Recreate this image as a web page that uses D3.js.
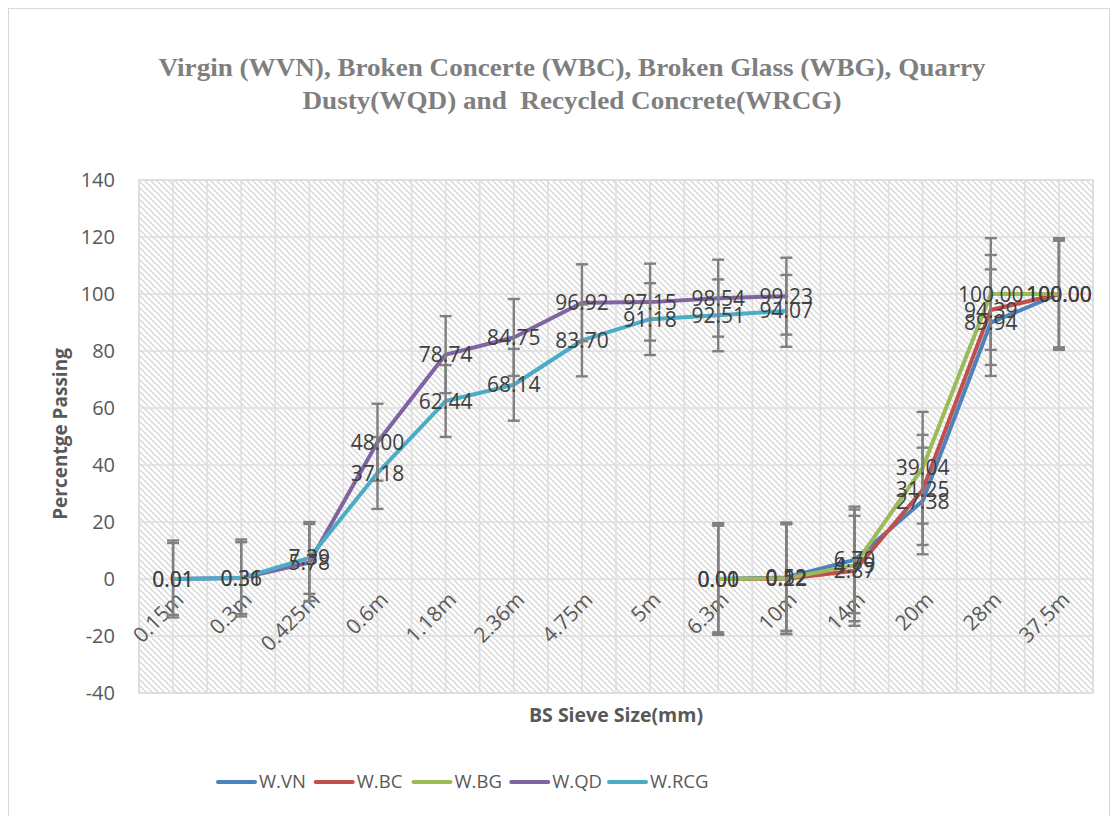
<!DOCTYPE html>
<html>
<head>
<meta charset="utf-8">
<script src="https://cdn.jsdelivr.net/npm/d3@7"></script>
<style>
  body { margin: 0; background: #fff; }
  svg { display: block; }
</style>
</head>
<body>
<svg width="1115" height="816"></svg>
<script>
const svg = d3.select("svg");
var width = +svg.attr("width");
var height = +svg.attr("height");

// sieve sizes (x categories)
const categories = ["0.15m", "0.3m", "0.425m", "0.6m", "1.18m", "2.36m", "4.75m", "5m", "6.3m", "10m", "14m", "20m", "28m", "37.5m"];

// percentage passing per mix, null where the series has no point
const wvn = [null, null, null, null, null, null, null, null, 0.00, 0.52, 6.70, 27.38, 89.94, 100.00];
const wbc = [null, null, null, null, null, null, null, null, 0.00, 0.12, 2.87, 31.25, 94.39, 100.00];
const wbg = [null, null, null, null, null, null, null, null, 0.01, 0.22, 4.79, 39.04, 100.00, 100.00];
const wqd = [0.01, 0.36, 5.78, 48.00, 78.74, 84.75, 96.92, 97.15, 98.54, 99.23, null, null, null, null];
const wrcg = [0.01, 0.31, 7.39, 37.18, 62.44, 68.14, 83.70, 91.18, 92.51, 94.07, null, null, null, null];

// +/- error bar size for each series
const errors = [18.7, 19.3, 19.6, 13.5, 12.6];

const seriesNames = ["W.VN", "W.BC", "W.BG", "W.QD", "W.RCG"];
const seriesValues = [wvn, wbc, wbg, wqd, wrcg];
const colors = ["#4F81BD", "#C0504D", "#9BBB59", "#8064A2", "#4BACC6"];

const yTicks = [-40, -20, 0, 20, 40, 60, 80, 100, 120, 140];

const plot = { left: 139, right: 1093, top: 180, bottom: 693 };

var x = d3.scaleBand().domain(categories).range([plot.left, plot.right]).padding(0);
var y = d3.scaleLinear().domain([-40, 140]).range([plot.bottom, plot.top]);
function cx(c) {
  return x(c) + x.bandwidth() / 2;
}

var series = seriesNames.map(function (name, i) {
  return {
    name: name,
    color: colors[i],
    err: errors[i],
    points: categories.map(function (c, j) {
      return { cat: c, v: seriesValues[i][j] };
    }),
  };
});

// chart area border
svg.append("rect")
  .attr("x", 8.5).attr("y", 8.5)
  .attr("width", 1101).attr("height", 820)
  .attr("fill", "#fff")
  .attr("stroke", "#d9d9d9");

// title (two lines)
const titleLines = [
  { text: "Virgin (WVN), Broken Concerte (WBC), Broken Glass (WBG), Quarry", y: 76, len: 827 },
  { text: "Dusty(WQD) and  Recycled Concrete(WRCG)", y: 109, len: 539 },
];
svg.append("g").selectAll("text")
  .data(titleLines)
  .join("text")
  .attr("x", 572)
  .attr("y", function (d) { return d.y; })
  .attr("text-anchor", "middle")
  .attr("textLength", function (d) { return d.len; })
  .attr("lengthAdjust", "spacingAndGlyphs")
  .attr("font-family", "Liberation Serif")
  .attr("font-weight", "bold")
  .attr("font-size", 25)
  .attr("fill", "#7f7f7f")
  .style("white-space", "pre")
  .text(function (d) { return d.text; });

// hatched plot background
var defs = svg.append("defs");
var pat = defs.append("pattern")
  .attr("id", "hatch")
  .attr("patternUnits", "userSpaceOnUse")
  .attr("width", 6).attr("height", 6);
pat.append("path")
  .attr("d", "M-1,-1 L7,7 M-1,5 L1,7 M5,-1 L7,1")
  .attr("stroke", "#d9d9d9")
  .attr("stroke-width", 1.5);

svg.append("rect")
  .attr("x", plot.left).attr("y", plot.top)
  .attr("width", plot.right - plot.left).attr("height", plot.bottom - plot.top)
  .attr("fill", "url(#hatch)")
  .attr("stroke", "#d9d9d9")
  .attr("stroke-width", 1.5);

// gridlines: horizontal at ticks, vertical at band centres and edges
var grid = svg.append("g").attr("stroke", "#dedede").attr("stroke-width", 1.6);
grid.selectAll("line.h")
  .data(yTicks)
  .join("line")
  .attr("class", "h")
  .attr("x1", plot.left).attr("x2", plot.right)
  .attr("y1", function (d) { return y(d); })
  .attr("y2", function (d) { return y(d); });
var vx = [];
categories.forEach(function (c) {
  vx.push(x(c));
  vx.push(cx(c));
});
vx.push(plot.right);
grid.selectAll("line.v")
  .data(vx)
  .join("line")
  .attr("class", "v")
  .attr("y1", plot.top).attr("y2", plot.bottom)
  .attr("x1", function (d) { return d; })
  .attr("x2", function (d) { return d; });

// y axis tick labels
svg.append("g").selectAll("text")
  .data(yTicks)
  .join("text")
  .attr("x", 115)
  .attr("y", function (d) { return y(d); })
  .attr("dy", "0.35em")
  .attr("text-anchor", "end")
  .attr("font-family", "Open Sans")
  .attr("font-size", 20)
  .attr("fill", "#595959")
  .text(function (d) { return d; });

// x axis tick labels, rotated
svg.append("g").selectAll("text")
  .data(categories)
  .join("text")
  .attr("transform", function (d) { return "translate(" + (cx(d) + 12) + ",601) rotate(-45)"; })
  .attr("text-anchor", "end")
  .attr("font-family", "Open Sans")
  .attr("font-size", 21)
  .attr("fill", "#595959")
  .text(function (d) { return d; });

// axis titles
svg.append("text")
  .attr("transform", "translate(67,434) rotate(-90)")
  .attr("text-anchor", "middle")
  .attr("font-family", "Open Sans")
  .attr("font-weight", "bold")
  .attr("font-size", 19)
  .attr("fill", "#595959")
  .text("Percentge Passing");

svg.append("text")
  .attr("x", 616).attr("y", 722)
  .attr("text-anchor", "middle")
  .attr("font-family", "Open Sans")
  .attr("font-weight", "bold")
  .attr("font-size", 19.5)
  .attr("fill", "#595959")
  .text("BS Sieve Size(mm)");

// series lines
var line = d3.line()
  .defined(function (d) { return d.v !== null; })
  .x(function (d) { return cx(d.cat); })
  .y(function (d) { return y(d.v); });

svg.append("g").selectAll("path")
  .data(series)
  .join("path")
  .attr("d", function (d) { return line(d.points); })
  .attr("fill", "none")
  .attr("stroke", function (d) { return d.color; })
  .attr("stroke-width", 4)
  .attr("stroke-linejoin", "round")
  .attr("stroke-linecap", "round");

// error bars
var bars = [];
series.forEach(function (s) {
  s.points.forEach(function (p) {
    if (p.v !== null) bars.push({ cat: p.cat, lo: p.v - s.err, hi: p.v + s.err });
  });
});
var eb = svg.append("g").attr("stroke", "#808080").attr("stroke-width", 2.4);
eb.selectAll("line.stem")
  .data(bars)
  .join("line")
  .attr("class", "stem")
  .attr("x1", function (d) { return cx(d.cat); })
  .attr("x2", function (d) { return cx(d.cat); })
  .attr("y1", function (d) { return y(d.lo); })
  .attr("y2", function (d) { return y(d.hi); });
eb.selectAll("line.cap")
  .data(bars.flatMap(function (d) { return [{ cat: d.cat, v: d.lo }, { cat: d.cat, v: d.hi }]; }))
  .join("line")
  .attr("class", "cap")
  .attr("x1", function (d) { return cx(d.cat) - 6; })
  .attr("x2", function (d) { return cx(d.cat) + 6; })
  .attr("y1", function (d) { return y(d.v); })
  .attr("y2", function (d) { return y(d.v); });

// data labels centred on the points
var labels = [];
series.forEach(function (s) {
  s.points.forEach(function (p) {
    if (p.v !== null) labels.push(p);
  });
});
svg.append("g").selectAll("text")
  .data(labels)
  .join("text")
  .attr("x", function (d) { return cx(d.cat); })
  .attr("y", function (d) { return y(d.v); })
  .attr("dy", "0.36em")
  .attr("text-anchor", "middle")
  .attr("font-family", "Open Sans")
  .attr("font-size", 21)
  .attr("fill", "#404040")
  .text(function (d) { return d.v.toFixed(2); });

// legend, evenly spaced items
var lpos = d3.scalePoint().domain(seriesNames).range([218, 609]);
var legend = svg.append("g").selectAll("g")
  .data(series)
  .join("g")
  .attr("transform", function (d) { return "translate(" + lpos(d.name) + ",782)"; });
legend.append("line")
  .attr("x1", 0).attr("x2", 37)
  .attr("stroke", function (d) { return d.color; })
  .attr("stroke-width", 4)
  .attr("stroke-linecap", "round");
legend.append("text")
  .attr("x", 41)
  .attr("dy", "0.35em")
  .attr("font-family", "Open Sans")
  .attr("font-size", 18.5)
  .attr("fill", "#595959")
  .text(function (d) { return d.name; });
</script>
</body>
</html>
